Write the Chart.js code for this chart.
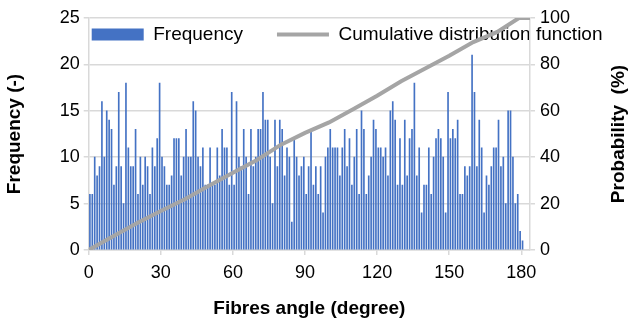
<!DOCTYPE html>
<html>
<head>
<meta charset="utf-8">
<script src="https://cdn.jsdelivr.net/npm/chart.js@4.4.1/dist/chart.umd.min.js"></script>
<style>
html, body { margin: 0; padding: 0; background: #fff; }
canvas { display: block; }
</style>
</head>
<body>
<canvas id="myChart" width="634" height="329"></canvas>
<script>
// frequency of fibres per 1 degree bin, angles 0..180
var frequency = [
  6, 6, 10, 8, 9, 16, 10, 15, 14, 13, 7, 9, 17, 9, 5, 18, 11, 9, 9, 13, 6, 10, 7, 10, 9,
  6, 11, 9, 12, 18, 10, 9, 7, 7, 8, 12, 12, 12, 8, 10, 13, 10, 10, 16, 15, 10, 9, 11, 7, 7, 11,
  7, 7, 11, 8, 13, 11, 11, 7, 17, 7, 16, 10, 9, 13, 10, 6, 13, 9, 10, 13, 13, 17, 14, 14, 10,
  5, 14, 9, 14, 13, 8, 11, 10, 3, 12, 10, 8, 9, 10, 6, 9, 13, 7, 9, 6, 9, 4, 10, 11, 13, 11,
  11, 11, 8, 11, 13, 9, 12, 7, 10, 13, 6, 15, 13, 6, 8, 10, 14, 13, 11, 11, 10, 11, 8, 15, 16, 14,
  7, 12, 7, 14, 8, 12, 13, 18, 8, 11, 4, 7, 7, 11, 6, 10, 12, 13, 12, 10, 4, 17, 12, 13, 12, 14,
  6, 6, 9, 8, 9, 21, 17, 9, 14, 11, 4, 8, 7, 9, 11, 11, 14, 9, 10, 5, 15, 15, 10, 5, 6, 2, 1
];
var angles = frequency.map(function (f, i) { return i; });

// cumulative distribution function (%), read at these angles
var cdfAngles = [0, 10, 20, 30, 40, 50, 60, 70, 80, 90, 100, 110, 120, 130, 140, 150, 160, 170, 179, 183.6];
var cdfValues = [0, 5.8, 11.5, 16.8, 21.9, 27.7, 33.3, 38.8, 45.4, 50.5, 55.0, 60.7, 66.5, 72.7, 78.2, 83.7, 89.6, 94.0, 100, 100];

var xTickValues = [0, 30, 60, 90, 120, 150, 180];
var xTitle = 'Fibres angle (degree)';
var yTitle = 'Frequency (-)';
var y2Title = 'Probability  (%)';

Chart.defaults.font.family = '"Liberation Sans", Arial, sans-serif';
Chart.defaults.color = '#000';

var gridGrey = '#d9d9d9';

// put the legend inside the plot, at its top left
var legendInPlot = {
  id: 'legendInPlot',
  afterLayout: function (chart) {
    var lg = chart.legend;
    var pad = lg.options.labels.padding;
    var area = chart.chartArea;
    lg.left = area.left + 3 - pad;
    lg.top = area.top + 7 - pad;
    lg.right = chart.width + 200;
    lg.bottom = lg.top + 80;
    lg.width = lg.right - lg.left;
    lg.height = lg.bottom - lg.top;
  }
};

// right axis title reads bottom to top like the left one
var rightTitle = {
  id: 'rightTitle',
  afterDraw: function (chart) {
    var s = chart.scales.y2;
    var ctx = chart.ctx;
    ctx.save();
    ctx.translate(s.right - 15, (s.top + s.bottom) / 2);
    ctx.rotate(-Math.PI / 2);
    ctx.font = 'bold 19px "Liberation Sans", Arial, sans-serif';
    ctx.fillStyle = '#000';
    ctx.textAlign = 'center';
    ctx.textBaseline = 'middle';
    ctx.fillText(y2Title, 0, 0);
    ctx.restore();
  }
};

var ctx = document.getElementById('myChart').getContext('2d');
var chart = new Chart(ctx, {
  type: 'bar',
  data: {
    datasets: [{
      type: 'bar',
      label: 'Frequency',
      data: frequency.map(function (f, i) { return { x: angles[i] + 0.5, y: f }; }),
      backgroundColor: '#4472C4',
      borderWidth: 0,
      barThickness: 1,
      yAxisID: 'y',
      order: 1
    }, {
      type: 'line',
      label: 'Cumulative distribution function',
      data: cdfValues.map(function (v, i) { return { x: cdfAngles[i], y: v }; }),
      borderColor: '#A5A5A5',
      backgroundColor: '#A5A5A5',
      borderWidth: 4,
      pointRadius: 0,
      fill: false,
      tension: 0,
      yAxisID: 'y2',
      order: 0
    }]
  },
  options: {
    responsive: false,
    devicePixelRatio: 1,
    animation: false,
    layout: { padding: { top: 17, bottom: 5, left: 0, right: 0 } },
    plugins: {
      tooltip: { enabled: false },
      legend: {
        position: 'top',
        align: 'start',
        maxHeight: 1,
        labels: {
          usePointStyle: true,
          pointStyleWidth: 52,
          boxHeight: 12,
          padding: 34,
          font: { size: 19 },
          color: '#000',
          generateLabels: function (chart) {
            return chart.data.datasets.map(function (ds, i) {
              return {
                text: ds.label,
                fillStyle: ds.backgroundColor,
                strokeStyle: i === 0 ? ds.backgroundColor : ds.borderColor,
                lineWidth: i === 0 ? 0 : 4,
                pointStyle: i === 0 ? 'rect' : 'line',
                fontColor: '#000',
                hidden: false,
                datasetIndex: i
              };
            });
          }
        }
      }
    },
    scales: {
      x: {
        type: 'linear',
        min: 0,
        max: 183.6,
        offset: false,
        afterBuildTicks: function (scale) {
          scale.ticks = xTickValues.map(function (v) { return { value: v }; });
        },
        afterFit: function (scale) { scale.height = 74; },
        ticks: { font: { size: 18 }, padding: 7, maxRotation: 0 },
        grid: { offset: false, drawOnChartArea: false, drawTicks: true, tickLength: 5, color: gridGrey, lineWidth: 1.5 },
        border: { color: gridGrey, width: 1.5 },
        title: { display: true, text: xTitle, font: { size: 19, weight: 'bold' }, padding: { top: 4, bottom: 4 } }
      },
      y: {
        position: 'left',
        min: 0,
        max: 25,
        afterFit: function (scale) { scale.width = 88.7; },
        ticks: { stepSize: 5, font: { size: 18 }, padding: 4 },
        grid: { color: gridGrey, lineWidth: 1.5, tickLength: 5 },
        border: { color: gridGrey, width: 1.5 },
        title: { display: true, text: yTitle, font: { size: 19, weight: 'bold' }, padding: { top: 3, bottom: 0 } }
      },
      y2: {
        position: 'right',
        min: 0,
        max: 100,
        afterFit: function (scale) { scale.width = 104; },
        ticks: { stepSize: 20, font: { size: 18 }, padding: 5 },
        grid: { drawOnChartArea: false, color: gridGrey, lineWidth: 1.5, tickLength: 5 },
        border: { color: gridGrey, width: 1.5 }
      }
    }
  },
  plugins: [legendInPlot, rightTitle]
});
</script>
</body>
</html>
